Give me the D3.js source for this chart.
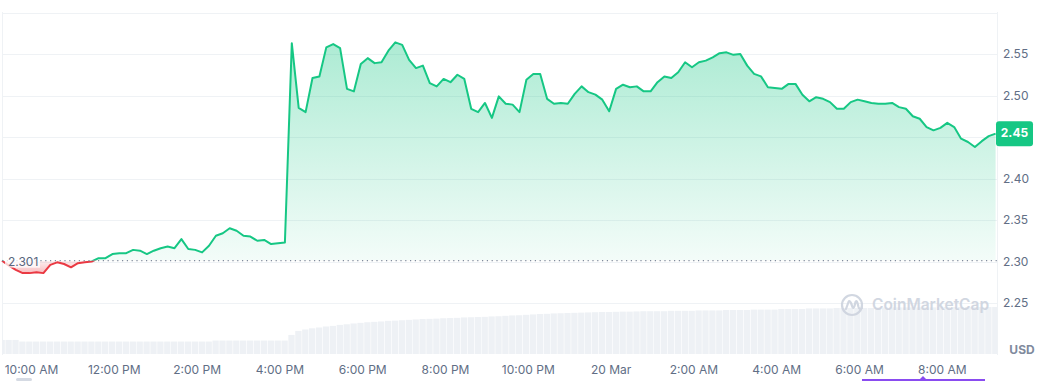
<!DOCTYPE html>
<html>
<head>
<meta charset="utf-8">
<script src="https://cdn.jsdelivr.net/npm/d3@7"></script>
<style>
  html, body { margin: 0; padding: 0; background: #fff; }
  svg { display: block; font-family: Inter, "Noto Sans", sans-serif; }
</style>
</head>
<body>
<div class="chart"></div>
<script>
// 24h price, one point every 10 minutes from 9:18 AM, 19 Mar
const startTime = new Date(2024, 2, 19, 9, 18);
const stepMinutes = 10;

const prices = [
  2.301, 2.295, 2.290, 2.286, 2.286, 2.287, 2.286, 2.296, 2.299, 2.297,
  2.293, 2.298, 2.299, 2.300, 2.304, 2.304, 2.309, 2.310, 2.310, 2.314,
  2.313, 2.309, 2.313, 2.316, 2.318, 2.316, 2.327, 2.315, 2.314, 2.311,
  2.319, 2.331, 2.334, 2.340, 2.337, 2.331, 2.330, 2.325, 2.326, 2.321,
  2.322, 2.323, 2.563, 2.485, 2.480, 2.521, 2.523, 2.558, 2.562, 2.557,
  2.508, 2.505, 2.538, 2.545, 2.539, 2.540, 2.554, 2.564, 2.561, 2.543,
  2.533, 2.536, 2.515, 2.511, 2.520, 2.516, 2.525, 2.520, 2.484, 2.480,
  2.491, 2.473, 2.499, 2.490, 2.489, 2.480, 2.519, 2.526, 2.526, 2.496,
  2.490, 2.491, 2.490, 2.502, 2.511, 2.504, 2.501, 2.495, 2.481, 2.508,
  2.513, 2.510, 2.511, 2.505, 2.505, 2.516, 2.523, 2.521, 2.528, 2.540,
  2.534, 2.540, 2.542, 2.546, 2.551, 2.552, 2.549, 2.550, 2.536, 2.526,
  2.523, 2.510, 2.509, 2.508, 2.514, 2.514, 2.501, 2.493, 2.498, 2.496,
  2.492, 2.484, 2.484, 2.492, 2.495, 2.493, 2.491, 2.490, 2.490, 2.491,
  2.486, 2.484, 2.475, 2.472, 2.462, 2.458, 2.461, 2.467, 2.462, 2.448,
  2.444, 2.438, 2.445, 2.451, 2.454
];

// volume (millions USD)
const volumes = [
  70, 70, 70, 62, 62, 62, 62, 62, 62, 62,
  62, 62, 62, 62, 62, 62, 62, 62, 62, 62,
  62, 62, 62, 62, 62, 62, 62, 62, 62, 62,
  62, 67, 67, 67, 67, 67, 67, 67, 67, 67,
  67, 67, 95, 115, 122, 128, 132, 137, 140, 145,
  148, 152, 155, 158, 160, 162, 165, 166, 168, 170,
  172, 174, 175, 176, 178, 179, 180, 182, 183, 184,
  185, 187, 188, 190, 192, 193, 195, 197, 199, 200,
  202, 203, 204, 205, 206, 207, 208, 209, 209, 210,
  211, 211, 212, 213, 213, 213, 213, 215, 215, 215,
  215, 217, 217, 217, 217, 219, 219, 219, 219, 221,
  221, 221, 221, 224, 224, 224, 224, 227, 227, 227,
  227, 229, 229, 229, 229, 229, 229, 232, 232, 232,
  232, 232, 232, 232, 232, 232, 234, 234, 234, 234,
  234, 234, 234, 234, 234
];

const openPrice = 2.301;
const yGrid = [2.25, 2.30, 2.35, 2.40, 2.45, 2.50, 2.55, 2.60];
const yTickLabels = ["2.25", "2.30", "2.35", "2.40", "2.45", "2.50", "2.55"];
const xTickLabels = ["10:00 AM", "12:00 PM", "2:00 PM", "4:00 PM", "6:00 PM", "8:00 PM",
  "10:00 PM", "20 Mar", "2:00 AM", "4:00 AM", "6:00 AM", "8:00 AM"];

const width = 1052, height = 381;
const plot = { left: 2, right: 997, top: 12, bottom: 355 };
const green = '#16c784', red = '#ea3943';

const data = prices.map((p, i) => ({
  t: d3.timeMinute.offset(startTime, i * stepMinutes),
  p: p,
  v: volumes[i]
}));

const x = d3.scaleTime()
  .domain(d3.extent(data, d => d.t))
  .range([2, 995.6]);

const y = d3.scaleLinear()
  .domain([2.25, 2.60])
  .range([303, 12.5]);

const yVol = d3.scaleLinear()
  .domain([0, d3.max(volumes)])
  .range([354, 307]);

const svg = d3.select('.chart')
  .append('svg')
    .attr('width', width)
    .attr('height', height);

const defs = svg.append('defs');
const baseY = y(openPrice);

const gGrad = defs.append('linearGradient')
  .attr('id', 'gGrad').attr('gradientUnits', 'userSpaceOnUse')
  .attr('x1', 0).attr('x2', 0).attr('y1', y(2.57)).attr('y2', baseY);
gGrad.append('stop').attr('offset', 0).attr('stop-color', green).attr('stop-opacity', 0.36);
gGrad.append('stop').attr('offset', 1).attr('stop-color', green).attr('stop-opacity', 0.05);

const rGrad = defs.append('linearGradient')
  .attr('id', 'rGrad').attr('gradientUnits', 'userSpaceOnUse')
  .attr('x1', 0).attr('x2', 0).attr('y1', baseY).attr('y2', y(2.285));
rGrad.append('stop').attr('offset', 0).attr('stop-color', red).attr('stop-opacity', 0.08);
rGrad.append('stop').attr('offset', 1).attr('stop-color', red).attr('stop-opacity', 0.35);

defs.append('clipPath').attr('id', 'above')
  .append('rect').attr('x', 0).attr('y', 0).attr('width', width).attr('height', baseY);
defs.append('clipPath').attr('id', 'below')
  .append('rect').attr('x', 0).attr('y', baseY).attr('width', width).attr('height', height - baseY);
defs.append('clipPath').attr('id', 'plotClip')
  .append('rect').attr('x', plot.left).attr('y', plot.top)
  .attr('width', plot.right - plot.left).attr('height', plot.bottom - plot.top);

// grid
svg.append('g')
  .selectAll('line')
  .data(yGrid)
  .join('line')
    .attr('x1', plot.left).attr('x2', plot.right)
    .attr('y1', d => Math.round(y(d)) + 0.5).attr('y2', d => Math.round(y(d)) + 0.5)
    .attr('stroke', '#eff2f5');
svg.append('g')
  .selectAll('line')
  .data([plot.left, plot.right])
  .join('line')
    .attr('x1', d => d + 0.5).attr('x2', d => d + 0.5)
    .attr('y1', plot.top).attr('y2', plot.bottom)
    .attr('stroke', '#eff2f5');

// volume bars
const step = x(data[1].t) - x(data[0].t);
svg.append('g')
  .attr('clip-path', 'url(#plotClip)')
  .selectAll('rect')
  .data(data)
  .join('rect')
    .attr('x', d => x(d.t) - step / 2)
    .attr('y', d => yVol(d.v))
    .attr('width', step - 0.6)
    .attr('height', d => yVol(0) - yVol(d.v))
    .attr('fill', '#eef1f5');

// price areas and line
const area = d3.area()
  .x(d => x(d.t))
  .y0(baseY)
  .y1(d => y(d.p));
const line = d3.line()
  .x(d => x(d.t))
  .y(d => y(d.p));

svg.append('path').datum(data)
  .attr('clip-path', 'url(#above)')
  .attr('d', area).attr('fill', 'url(#gGrad)');
svg.append('path').datum(data)
  .attr('clip-path', 'url(#below)')
  .attr('d', area).attr('fill', 'url(#rGrad)');

svg.append('path').datum(data)
  .attr('clip-path', 'url(#above)')
  .attr('d', line).attr('fill', 'none')
  .attr('stroke', green).attr('stroke-width', 2).attr('stroke-linejoin', 'round');
svg.append('path').datum(data)
  .attr('clip-path', 'url(#below)')
  .attr('d', line).attr('fill', 'none')
  .attr('stroke', red).attr('stroke-width', 2).attr('stroke-linejoin', 'round');

// open price dotted line + label
svg.append('line')
  .attr('x1', plot.left).attr('x2', plot.right)
  .attr('y1', baseY).attr('y2', baseY)
  .attr('stroke', '#808a9d').attr('stroke-width', 1.2)
  .attr('stroke-dasharray', '1.2 3.6');
svg.append('rect')
  .attr('x', 5).attr('y', baseY - 8).attr('width', 35).attr('height', 15)
  .attr('fill', '#fff').attr('opacity', 0.75);
svg.append('text')
  .attr('x', 8).attr('y', baseY + 2)
  .attr('dominant-baseline', 'middle')
  .attr('font-size', 12).attr('fill', '#58667e')
  .text(openPrice.toFixed(3));

// watermark
const wm = svg.append('g').attr('transform', 'translate(852, 305)').attr('opacity', 0.9);
wm.append('circle').attr('r', 10).attr('fill', 'none').attr('stroke', '#cdd3de').attr('stroke-width', 2.2);
wm.append('path')
  .attr('d', 'M-6,4 L-3.5,-3 Q-2.5,-5 -1,-2 L0.5,2 Q1.5,4 2.5,1 L3.5,-3 Q4.5,-5 5.5,-2 L6.5,2 Q7.5,5 10,3')
  .attr('fill', 'none').attr('stroke', '#cdd3de').attr('stroke-width', 2.2)
  .attr('stroke-linecap', 'round').attr('stroke-linejoin', 'round');
wm.append('text')
  .attr('x', 20).attr('y', 1)
  .attr('dominant-baseline', 'middle')
  .attr('font-size', 15.5).attr('font-weight', 600).attr('fill', '#cdd3de')
  .text('CoinMarketCap');

// x axis
const xTicks = xTickLabels.map((_, i) => new Date(2024, 2, 19, 10 + 2 * i));
const xAxis = svg.append('g')
  .attr('transform', `translate(0, 362)`)
  .call(d3.axisBottom(x).tickValues(xTicks).tickFormat((d, i) => xTickLabels[i]).tickSize(0));
xAxis.select('.domain').remove();
xAxis.selectAll('text')
  .attr('font-family', 'Inter, sans-serif')
  .attr('font-size', 12).attr('fill', '#616e85');

// current price
const last = data[data.length - 1];
const badgeY = y(last.p);

// y axis (the label under the price badge is hidden, as on the site)
const yAxis = svg.append('g')
  .attr('transform', `translate(${plot.right + 1}, 0)`)
  .call(d3.axisRight(y).tickValues(yGrid.slice(0, yTickLabels.length))
    .tickFormat((d, i) => yTickLabels[i]).tickSize(0).tickPadding(5));
yAxis.select('.domain').remove();
yAxis.selectAll('.tick')
  .filter(d => Math.abs(y(d) - badgeY) < 16)
  .remove();
yAxis.selectAll('text')
  .attr('font-family', 'Inter, sans-serif')
  .attr('font-size', 12).attr('fill', '#616e85');

svg.append('text')
  .attr('x', 1022).attr('y', 351)
  .attr('text-anchor', 'middle').attr('dominant-baseline', 'middle')
  .attr('font-size', 12).attr('font-weight', 700).attr('fill', '#808a9d')
  .text('USD');

svg.append('rect')
  .attr('x', 996).attr('y', badgeY - 12.5)
  .attr('width', 37).attr('height', 25).attr('rx', 3)
  .attr('fill', green);
svg.append('text')
  .attr('x', 1014.5).attr('y', badgeY + 0.5)
  .attr('text-anchor', 'middle').attr('dominant-baseline', 'middle')
  .attr('font-size', 12).attr('font-weight', 700).attr('fill', '#fff')
  .text(d3.format('.2f')(last.p));

// range slider hint at bottom
svg.append('rect')
  .attr('x', 16).attr('y', 378).attr('width', 16).attr('height', 3).attr('rx', 1.5)
  .attr('fill', '#d5dae3');
svg.append('line')
  .attr('x1', 862).attr('x2', 985).attr('y1', 380).attr('y2', 380)
  .attr('stroke', '#8a4cf0').attr('stroke-width', 2);
svg.append('path')
  .attr('d', 'M919,380 L923,376 L927,380 Z')
  .attr('fill', '#8a4cf0');
</script>
</body>
</html>
